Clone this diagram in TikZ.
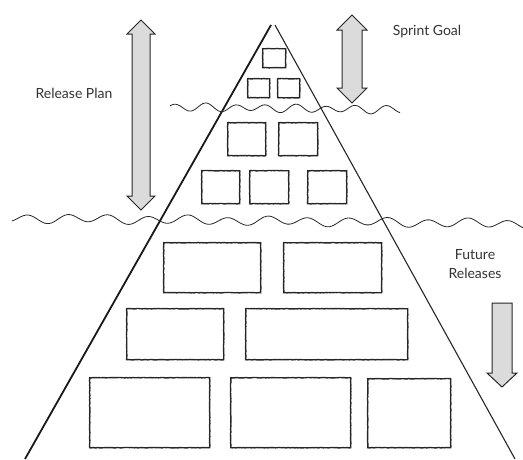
\documentclass[tikz,border=0pt]{standalone}
\usepackage{fontspec}
\setmainfont{Lato}
\usetikzlibrary{decorations.pathmorphing}
\tikzset{
  rough/.style={decorate, decoration={random steps, segment length=1.6pt, amplitude=0.25pt}},
  blk/.style={draw=black!85, line width=1.4pt, rough, rectangle, inner sep=0pt, anchor=north west},
  fatarrow/.style={draw=black!85, line width=1pt, fill=black!14, line join=miter},
  wave/.style={draw=black!85, line width=0.8pt},
  lbl/.style={font=\fontsize{14}{16}\selectfont, text=black!80, align=center}
}
\newcommand{\blkat}[5]{\node[blk, minimum width=#4pt, minimum height=#5pt] (#1) at (#2,#3) {};}
\begin{document}
\begin{tikzpicture}[x=1pt,y=-1pt]
\useasboundingbox (0,0) rectangle (523,459);
% pyramid
\coordinate (apexL) at (271,25);
\coordinate (apexR) at (275,25);
\coordinate (baseL) at (25,459);
\coordinate (baseR) at (515,459);
\draw[line width=1.8pt, black!90] (apexL) -- (baseL);
\draw[line width=1.1pt, black!85] (apexR) -- (baseR);
% waves
\draw[wave] plot[domain=170:400, samples=120, smooth] (\x, {107 + 0.012*(\x-170) + 3.5*sin((\x-170)/30*360 + 200) + 1*sin((\x-170)/47*360)});
\draw[wave] plot[domain=12:523, samples=220, smooth] (\x, {218 + 0.011*\x + 4*sin((\x-18)/40*360 + 180) + 1.2*sin((\x-18)/95*360)});
% boxes
\blkat{t1}{262}{48}{23}{19}
\blkat{t2}{247}{78}{22}{19}
\blkat{t3}{277}{78}{22}{19}
\blkat{m1}{227}{122}{38}{33}
\blkat{m2}{278}{122}{39}{33}
\blkat{n1}{201}{170}{38}{33}
\blkat{n2}{249}{170}{39}{33}
\blkat{n3}{307}{170}{39}{33}
\blkat{r1}{163}{242}{97}{50}
\blkat{r2}{283}{242}{98}{50}
\blkat{s1}{126}{308}{97}{51}
\blkat{s2}{245}{308}{162}{51}
\blkat{u1}{89}{377}{120}{70}
\blkat{u2}{230}{377}{120}{70}
\blkat{u3}{367}{378}{83}{69}
% arrows
\draw[fatarrow] (141,20) -- (155,34) -- (150,34) -- (150,196) -- (155,196) -- (141,210) -- (127,196) -- (132,196) -- (132,34) -- (127,34) -- cycle;
\draw[fatarrow] (352,15) -- (367,30) -- (362,30) -- (362,88) -- (367,88) -- (352,103) -- (337,88) -- (342,88) -- (342,30) -- (337,30) -- cycle;
\draw[fatarrow] (492,303) -- (512,303) -- (512,373) -- (517,373) -- (502,387) -- (487,373) -- (492,373) -- cycle;
% labels
\node[lbl] (rp) at (74,93) {Release Plan};
\node[lbl] (sg) at (427,32) {Sprint Goal};
\node[lbl, font=\fontsize{14}{19}\selectfont] (fr) at (475,264) {Future\\Releases};
\end{tikzpicture}
\end{document}
